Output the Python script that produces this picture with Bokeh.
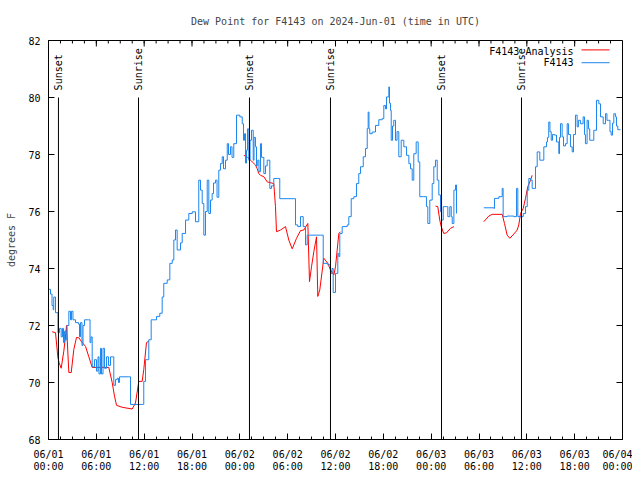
import math
from bokeh.plotting import figure
from bokeh.models import Range1d, FixedTicker
from bokeh.core.properties import value
from bokeh.embed import file_html
from bokeh.resources import INLINE

# ---------------- data ----------------
title_text = "Dew Point for F4143 on 2024-Jun-01 (time in UTC)"
y_label = "degrees F"

tick_hours = [0, 6, 12, 18, 24, 30, 36, 42, 48, 54, 60, 66, 72]
tick_labels = ["06/01\n00:00", "06/01\n06:00", "06/01\n12:00", "06/01\n18:00",
               "06/02\n00:00", "06/02\n06:00", "06/02\n12:00", "06/02\n18:00",
               "06/03\n00:00", "06/03\n06:00", "06/03\n12:00", "06/03\n18:00",
               "06/04\n00:00"]
y_ticks = [68, 70, 72, 74, 76, 78, 80, 82]

sun_hours = [1.25, 11.29, 25.21, 35.37, 49.3, 59.33]
sun_labels = ["Sunset", "Sunrise", "Sunset", "Sunrise", "Sunset", "Sunrise"]

series_names = ["F4143 Analysis", "F4143"]

# observed F4143 (hours since 06/01 00:00 UTC)
blue1_h = [0.0, 0.25, 0.44, 0.59, 0.66, 0.88, 1.09, 1.19, 1.38, 1.59,
           1.76, 1.88, 2.0, 2.2, 2.32, 2.55, 2.76, 2.89, 3.07, 3.39,
           3.76, 3.89, 4.01, 4.2, 4.33, 4.52, 5.02, 5.21, 5.33, 5.48,
           5.77, 6.02, 6.21, 6.33, 6.52, 6.65, 6.84, 7.02, 7.28, 7.53,
           7.78, 7.99, 8.19, 8.4, 8.62, 8.78, 8.91, 10.07, 10.29, 11.75,
           11.95, 12.17, 12.38, 12.58, 12.88, 13.21, 13.55, 13.96, 14.26, 14.46,
           14.89, 15.22, 15.52, 15.72, 15.93, 16.14, 16.56, 16.77, 17.19, 17.6,
           18.03, 18.44, 18.85, 19.07, 19.28, 19.48, 19.69, 19.91, 20.11, 20.32,
           20.53, 20.7, 20.95, 21.14, 21.36, 21.57, 21.79, 21.95, 22.2, 22.42,
           22.58, 22.83, 23.02, 23.24, 23.58, 24.0, 24.3, 24.46, 24.59, 24.71,
           24.84, 24.96, 25.13, 25.28, 25.46, 25.68, 25.78, 25.96, 26.09, 26.25,
           26.4, 26.59, 26.72, 27.01, 27.22, 27.43, 27.76, 27.97, 28.26, 28.69,
           29.01, 30.77, 30.98, 31.27, 31.61, 31.95, 32.24, 32.45, 34.12, 34.46,
           35.04, 35.37, 35.56, 35.71, 36.0, 36.29, 36.42, 36.54, 36.84, 37.47,
           37.67, 37.97, 38.3, 38.63, 38.92, 39.14, 39.48, 39.76, 39.98, 40.1,
           40.2, 40.3, 40.6, 41.02, 41.43, 41.86, 42.06, 42.27, 42.4, 42.69,
           42.77, 42.9, 42.99, 43.15, 43.31, 43.53, 43.72, 43.94, 44.24, 44.57,
           44.91, 45.2, 45.41, 45.62, 45.82, 46.12, 46.37, 46.57, 47.07, 47.41,
           47.58, 47.83, 48.13, 48.33, 48.54, 48.76, 48.96, 49.17, 49.3, 49.51,
           49.92, 50.09, 50.34, 50.52, 50.64, 50.85, 51.06, 51.18]
blue1_v = [73.27, 73.1, 72.7, 72.55, 73.0, 72.45, 72.45, 71.75, 71.9, 71.6,
           71.9, 71.4, 71.8, 71.5, 72.0, 72.5, 72.2, 72.5, 72.2, 72.1,
           72.05, 71.6, 72.1, 71.3, 72.0, 72.2, 72.2, 71.4, 71.6, 70.55,
           70.8, 70.4, 70.9, 70.3, 71.2, 70.3, 71.2, 70.5, 70.9, 70.6,
           70.9, 70.9, 69.9, 70.1, 70.15, 70.0, 70.2, 70.2, 69.23, 69.23,
           70.04, 70.8, 70.8, 71.5, 72.2, 72.2, 72.32, 72.43, 73.0, 73.48,
           73.6, 74.18, 74.3, 75.0, 75.35, 74.65, 74.9, 75.23, 75.7, 75.93,
           75.99, 75.64, 77.1, 76.75, 76.28, 75.17, 76.0, 77.1, 75.93, 76.4,
           76.63, 77.0, 77.1, 76.5, 77.45, 77.68, 77.92, 77.5, 77.8, 78.38,
           78.0, 78.27, 77.9, 78.38, 79.38, 79.32, 79.08, 78.5, 78.73, 77.7,
           78.15, 78.9, 77.8, 78.5, 78.85, 77.8, 78.6, 78.27, 77.6, 77.8,
           77.4, 78.38, 77.9, 77.33, 77.6, 77.8, 76.81, 76.9, 77.16, 77.16,
           76.45, 76.45, 75.53, 75.47, 75.82, 75.47, 74.83, 75.17, 75.17, 74.18,
           74.13, 73.83, 74.0, 73.16, 73.83, 74.53, 74.42, 75.23, 75.47, 75.53,
           75.82, 76.45, 76.52, 76.98, 77.33, 77.57, 77.92, 78.21, 78.91, 79.49,
           78.9, 78.73, 78.79, 79.02, 79.22, 79.26, 79.72, 79.6, 80.02, 80.37,
           79.8, 79.55, 78.5, 79.0, 79.2, 78.5, 78.8, 77.92, 78.5, 78.27,
           77.97, 77.68, 77.5, 77.1, 78.03, 78.44, 77.74, 76.52, 76.52, 76.17,
           75.58, 76.4, 76.98, 77.57, 77.8, 77.1, 76.58, 75.99, 75.7, 76.17,
           76.17, 75.82, 76.17, 75.82, 75.58, 76.75, 76.93, 75.93]

blue2_h = [54.6, 55.86, 55.95, 56.49, 56.91, 57.03, 57.53, 58.36, 58.71, 58.87,
           59.3, 59.55, 59.83, 60.05, 60.25, 60.46, 60.67, 60.88, 61.09, 61.3,
           61.63, 61.93, 62.13, 62.47, 62.59, 62.75, 62.9, 63.06, 63.22, 63.47,
           63.72, 64.01, 64.1, 64.22, 64.43, 64.6, 64.85, 65.06, 65.22, 65.47,
           65.69, 65.85, 66.1, 66.31, 66.47, 66.72, 67.06, 67.23, 67.35, 67.56,
           67.73, 67.89, 68.19, 68.4, 68.74, 69.03, 69.24, 69.58, 69.87, 70.05,
           70.28, 70.43, 70.58, 70.75, 70.91, 71.13, 71.25, 71.41, 71.75]
blue2_v = [76.13, 76.11, 76.46, 76.52, 76.81, 75.82, 75.84, 75.82, 76.81, 75.82,
           75.82, 75.93, 76.17, 76.75, 77.16, 77.1, 76.81, 76.81, 77.57, 78.09,
           77.8, 77.8, 78.27, 78.44, 78.6, 79.14, 78.8, 78.5, 78.7, 78.68,
           78.44, 78.03, 78.6, 79.08, 78.62, 78.3, 78.38, 79.08, 78.7, 78.27,
           78.09, 78.7, 79.38, 78.97, 79.2, 79.08, 79.32, 78.7, 78.38, 79.2,
           78.9, 78.5, 78.5, 78.85, 79.9, 79.78, 79.32, 79.08, 79.43, 79.2,
           79.2, 78.8, 78.68, 79.1, 79.43, 79.32, 79.0, 78.87, 78.87]

# analysis F4143
red1_h = [0.46, 0.88, 1.17, 1.32, 1.59, 1.92, 2.13, 2.26, 2.55, 2.85,
          3.17, 3.51, 3.8, 4.23, 4.64, 5.06, 5.48, 7.56, 7.99, 8.28,
          8.53, 9.24, 10.5, 10.91, 11.33, 11.75, 11.95, 12.29, 12.58]
red1_v = [71.78, 71.75, 70.9, 70.7, 70.5, 71.1, 71.6, 72.0, 70.35, 70.35,
          71.15, 71.58, 71.57, 71.4, 71.27, 70.9, 70.53, 70.53, 70.0, 69.52,
          69.2, 69.13, 69.07, 69.28, 70.04, 70.04, 70.45, 71.4, 71.45]
red2_h = [24.5, 24.92, 25.34, 25.55, 25.97, 26.18, 26.38, 26.59, 27.01, 27.43,
          28.26, 28.47, 28.6, 29.1, 29.73, 30.14, 30.57, 31.11, 31.61, 32.02,
          32.53, 32.74, 32.99, 33.28, 33.62, 33.78, 34.03, 34.53, 35.04, 35.37,
          35.79, 36.0, 36.42, 36.63]
red2_v = [77.97, 77.92, 77.8, 77.74, 77.63, 77.5, 77.33, 77.27, 77.22, 77.04,
          76.98, 76.17, 75.29, 75.35, 75.47, 75.0, 74.69, 75.06, 75.33, 75.35,
          75.58, 73.54, 74.06, 74.59, 75.11, 73.02, 73.25, 74.36, 74.18, 73.95,
          73.77, 74.06, 75.23, 75.29]
red3_h = [48.54, 48.83, 49.08, 49.26, 49.58, 49.92, 50.42, 50.85]
red3_v = [76.19, 76.17, 75.7, 75.47, 75.23, 75.25, 75.41, 75.47]
red4_h = [54.6, 55.23, 55.65, 56.91, 57.2, 57.53, 57.87, 58.37, 58.79, 58.99,
          59.21, 59.55, 59.83, 60.12, 60.46, 60.67]
red4_v = [75.64, 75.84, 75.9, 75.9, 75.58, 75.17, 75.06, 75.21, 75.35, 75.53,
          75.93, 76.11, 76.46, 76.87, 77.1, 77.27]

# ---------------- style ----------------
FONT = "DejaVu Sans Mono"
FS = "10px"
RED = "#ff0000"
BLUE = "#1c86ee"
X0, X1 = 0, 72
Y0, Y1 = 68, 82
SUN_TOP = 80.0
SUN_TEXT_Y = 80.25
LEG_TEXT_X = 65.86
LEG_LINE_X0, LEG_LINE_X1 = 66.86, 70.37
LEG_TEXT_Y = [81.63, 81.23]
LEG_LINE_Y = [81.67, 81.22]

p = figure(width=632, height=474, x_range=Range1d(X0, X1), y_range=Range1d(Y0, Y1),
           output_backend="svg", toolbar_location=None, title=title_text,
           min_border_left=48, min_border_right=10, min_border_top=40, min_border_bottom=34)
p.background_fill_color = "white"
p.border_fill_color = "white"
p.outline_line_color = "black"
p.outline_line_width = 1
p.grid.visible = False

p.title.text_font = FONT
p.title.text_font_size = FS
p.title.text_font_style = "normal"
p.title.align = "center"
p.title.standoff = 27
p.title.offset = -4

xb = p.below[0]
yl = p.left[0]
minor_x = [i * 1.5 for i in range(49)]
xb.ticker = FixedTicker(ticks=tick_hours, minor_ticks=minor_x)
xb.major_label_overrides = {float(h): lab for h, lab in zip(tick_hours, tick_labels)}
yl.ticker = FixedTicker(ticks=y_ticks, minor_ticks=[])
yl.axis_label = y_label

for ax in [xb, yl]:
    ax.major_tick_in = 6
    ax.major_tick_out = 0
    ax.minor_tick_in = 3
    ax.minor_tick_out = 0
    ax.axis_line_color = "black"
    ax.major_tick_line_color = "black"
    ax.minor_tick_line_color = "black"
    ax.major_label_text_font = FONT
    ax.major_label_text_font_size = FS
    ax.major_label_text_color = "black"
    ax.major_label_standoff = 8
    ax.axis_label_text_font = FONT
    ax.axis_label_text_font_size = FS
    ax.axis_label_text_font_style = "normal"
xb.major_label_text_line_height = 1.1
xb.major_label_standoff = 9
yl.minor_tick_line_color = None
yl.axis_label_standoff = 8

# mirrored ticks on top and right edges (gnuplot style)
p.ray(x=tick_hours, y=[Y1] * len(tick_hours), length=6, length_units="screen",
      angle=-math.pi / 2, line_color="black", line_width=1)
p.ray(x=minor_x, y=[Y1] * len(minor_x), length=3, length_units="screen",
      angle=-math.pi / 2, line_color="black", line_width=1)
p.ray(x=[X1] * len(y_ticks), y=y_ticks, length=6, length_units="screen",
      angle=math.pi, line_color="black", line_width=1)

# series
p.line(red1_h, red1_v, line_color=RED, line_width=1)
p.line(red2_h, red2_v, line_color=RED, line_width=1)
p.line(red3_h, red3_v, line_color=RED, line_width=1)
p.line(red4_h, red4_v, line_color=RED, line_width=1)
p.step(blue1_h, blue1_v, mode="after", line_color=BLUE, line_width=1)
p.step(blue2_h, blue2_v, mode="after", line_color=BLUE, line_width=1)

# sunrise / sunset markers
p.segment(x0=sun_hours, y0=[Y0] * len(sun_hours), x1=sun_hours, y1=[SUN_TOP] * len(sun_hours),
          line_color="black", line_width=1)
p.text(x=sun_hours, y=[SUN_TEXT_Y] * len(sun_hours), text=sun_labels, angle=math.pi / 2,
       text_align="left", text_baseline="middle", text_font=value(FONT),
       text_font_size=FS, text_color="black")

# legend (gnuplot style: text then sample)
p.text(x=[LEG_TEXT_X] * 2, y=LEG_TEXT_Y, text=series_names, text_align="right",
       text_baseline="middle", text_font=value(FONT), text_font_size=FS, text_color="black")
p.segment(x0=[LEG_LINE_X0] * 2, y0=LEG_LINE_Y, x1=[LEG_LINE_X1] * 2, y1=LEG_LINE_Y,
          line_color=[RED, BLUE], line_width=1)

open("out.html", "w").write(file_html(p, INLINE))
